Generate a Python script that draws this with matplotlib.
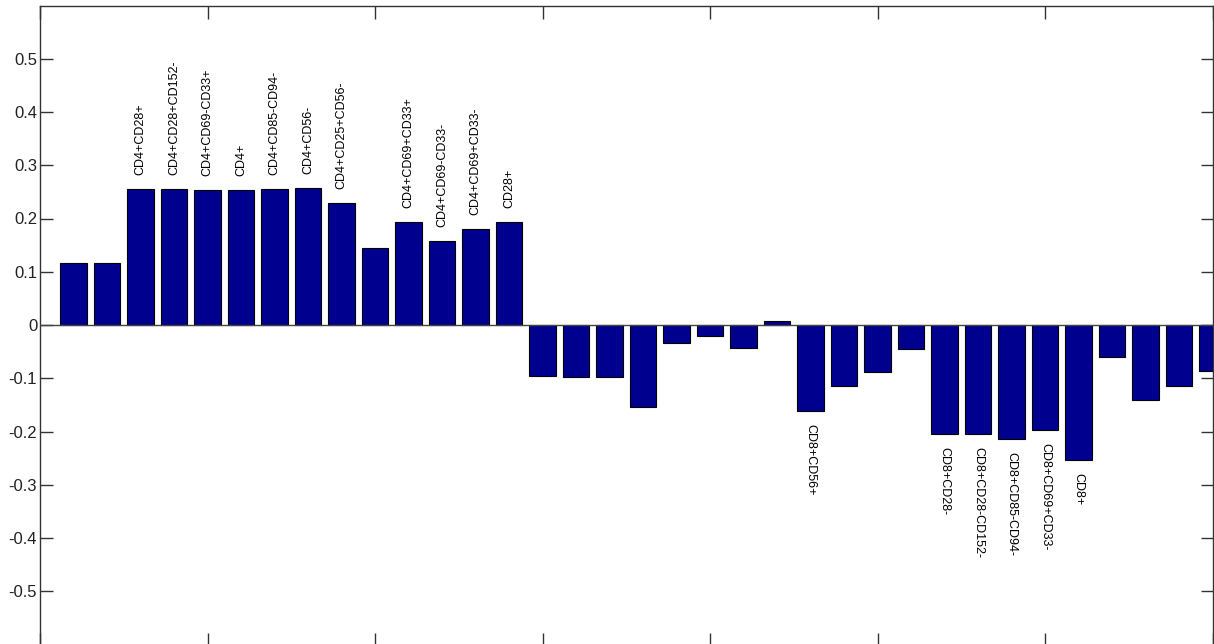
import matplotlib.pyplot as plt
import numpy as np

# bar values (35 bars, left to right)
values = [0.116, 0.116, 0.2555, 0.2555, 0.253, 0.253, 0.2555, 0.258, 0.230, 0.144,
          0.193, 0.158, 0.181, 0.193, -0.096, -0.098, -0.098, -0.154, -0.033, -0.020,
          -0.043, 0.007, -0.161, -0.114, -0.089, -0.045, -0.2045, -0.2045, -0.214, -0.198,
          -0.253, -0.061, -0.141, -0.114, -0.087]

# labels written next to some of the bars (bar number -> text)
label_pos = [3, 4, 5, 6, 7, 8, 9, 11, 12, 13, 14, 23, 27, 28, 29, 30, 31]
label_text = ['CD4+CD28+', 'CD4+CD28+CD152-', 'CD4+CD69-CD33+', 'CD4+', 'CD4+CD85-CD94-',
              'CD4+CD56-', 'CD4+CD25+CD56-', 'CD4+CD69+CD33+', 'CD4+CD69-CD33-',
              'CD4+CD69+CD33-', 'CD28+', 'CD8+CD56+', 'CD8+CD28-', 'CD8+CD28-CD152-',
              'CD8+CD85-CD94-', 'CD8+CD69+CD33-', 'CD8+']

ytick_vals = [-0.5, -0.4, -0.3, -0.2, -0.1, 0, 0.1, 0.2, 0.3, 0.4, 0.5]
ytick_text = ['-0.5', '-0.4', '-0.3', '-0.2', '-0.1', '0', '0.1', '0.2', '0.3', '0.4', '0.5']

plt.rcParams['font.family'] = ['Liberation Sans', 'DejaVu Sans']

fig = plt.figure(figsize=(12.14, 6.44), dpi=100)
ax = fig.add_axes([40 / 1214, -0.5 / 644, 1172.5 / 1214, 639 / 644])

x = np.arange(1, len(values) + 1)
ax.bar(x, values, width=0.8, color='#00008f', edgecolor='black', linewidth=0.8, zorder=2)
ax.axhline(0, color='#444444', linewidth=1, zorder=3)

for pos, txt in zip(label_pos, label_text):
    v = values[pos - 1]
    if v >= 0:
        ax.text(pos, v + 0.026, txt, rotation=90, ha='center', va='bottom', fontsize=9)
    else:
        ax.text(pos, v - 0.024, txt, rotation=-90, ha='center', va='top', fontsize=9)

ax.set_xlim(0, 35)
ax.set_ylim(-0.6, 0.6)
ax.set_xticks(np.arange(0, 36, 5))
ax.set_xticklabels([])
ax.set_yticks(ytick_vals)
ax.set_yticklabels(ytick_text, fontsize=12, color='#222222')

ax.tick_params(direction='in', length=9, width=1, color='#333333', pad=2,
               top=True, right=True, bottom=True, left=True)
for s in ax.spines.values():
    s.set_color('#333333')
    s.set_linewidth(1)

fig.savefig('out.png', dpi=100)
